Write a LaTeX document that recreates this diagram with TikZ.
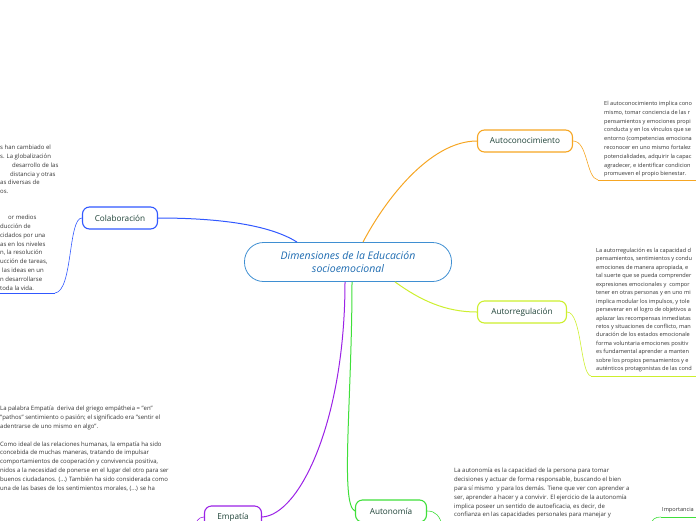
\documentclass[tikz,border=0pt]{standalone}
\usepackage{fontspec}
\setmainfont{Open Sans}
\definecolor{mainblue}{HTML}{3F8FD2}
\definecolor{maintext}{HTML}{1C6AB0}
\definecolor{nodetext}{HTML}{1E4237}
\definecolor{notegray}{HTML}{333333}
\definecolor{colabblue}{HTML}{3158FF}
\definecolor{autoorange}{HTML}{F6A623}
\definecolor{autolime}{HTML}{CDEF2E}
\definecolor{autogreen}{HTML}{3FDF3A}
\definecolor{empurple}{HTML}{9B22E6}
\tikzset{
  topic/.style={draw, rounded corners=7pt, line width=1.1pt, minimum height=22pt,
    inner xsep=2pt, fill=white, text=nodetext, font=\fontsize{8.2}{9}\selectfont},
  note/.style={anchor=north west, inner sep=0pt, align=left, text=notegray,
    font=\fontsize{6}{8.8}\selectfont},
  edgenote/.style={note, font=\fontsize{5.6}{8.8}\selectfont},
  branch/.style={line width=1pt},
  link/.style={line width=0.6pt},
  rule/.style={line width=0.9pt}
}
\begin{document}
\begin{tikzpicture}[x=1pt, y=-1pt]
  \useasboundingbox (0,0) rectangle (696,520);
  \clip (0,0) rectangle (696,520);

  \node[draw=mainblue, line width=0.8pt, rounded corners=19pt, minimum width=207pt,
    minimum height=39pt, align=center, text=maintext,
    font=\itshape\fontsize{10.5}{12.5}\selectfont] (dim) at (348,262)
    {Dimensiones de la Educación\\socioemocional};

  \node[topic, draw=colabblue, minimum width=75pt] (colab) at (120,218) {Colaboración};
  \node[topic, draw=autoorange, minimum width=95pt] (autocon) at (525,141) {Autoconocimiento};
  \node[topic, draw=autolime, minimum width=89pt] (autorreg) at (522,312) {Autorregulación};
  \node[topic, draw=autogreen, minimum width=71pt] (auton) at (391,511) {Autonomía};
  \node[topic, draw=empurple, minimum width=57pt] (empat) at (233,517) {Empatía};

  \draw[branch, colabblue] ([xshift=-51pt]dim.north) .. controls (270,225) and (220,218) .. (colab.east);
  \draw[branch, autoorange] ([xshift=15pt]dim.north) .. controls (385,200) and (430,141) .. (autocon.west);
  \draw[branch, autolime] ([xshift=47pt]dim.south) .. controls (420,300) and (445,312) .. (autorreg.west);
  \draw[branch, autogreen] ([xshift=4pt]dim.south) .. controls (352,400) and (340,505) .. (auton.west);
  \draw[branch, empurple] ([xshift=-3pt]dim.south) .. controls (345,420) and (300,515) .. (empat.east);

  % notas
  \node[note] (colabtxt) at (0,145) {s han cambiado el\\s. La globalización\\
    \hspace*{12pt}desarrollo de las\\\hspace*{10pt}distancia y otras\\
    as diversas de\\os.};
  \node[note] (colabtxtb) at (0,215) {\hspace*{8pt}or medios\\ducción de\\
    cidados por una\\as en los niveles\\n, la resolución\\ucción de tareas,\\
    \hspace*{2pt}las ideas en un\\n desarrollarse\\toda la vida.};
  \node[edgenote] (autocontxt) at (604,101) {El autoconocimiento implica cono\\
    mismo, tomar conciencia de las r\\pensamientos y emociones propi\\
    conducta y en los vínculos que se\\entorno (competencias emociona\\
    reconocer en uno mismo fortalez\\potencialidades, adquirir la capac\\
    agradecer, e identificar condicion\\promueven el propio bienestar.};
  \node[edgenote, font=\fontsize{5.6}{8.45}\selectfont] (autorregtxt) at (596,248)
    {La autorregulación es la capacidad d\\pensamientos, sentimientos y condu\\
    emociones de manera apropiada, e\\tal suerte que se pueda comprender\\
    expresiones emocionales y \ compor\\tener en otras personas y en uno mi\\
    implica modular los impulsos, y tole\\perseverar en el logro de objetivos a\\
    aplazar las recompensas inmediatas\\retos y situaciones de conflicto, man\\
    duración de los estados emocionale\\forma voluntaria emociones positiv\\
    es fundamental aprender a manten\\sobre los propios pensamientos y e\\
    auténticos protagonistas de las cond};
  \node[note] (autontxt) at (454,468) {La autonomía es la capacidad de la persona para tomar\\
    decisiones y actuar de forma responsable, buscando el bien\\
    para sí mismo \ y para los demás. Tiene que ver con aprender a\\
    ser, aprender a hacer y a convivir. El ejercicio de la autonomía\\
    implica poseer un sentido de autoeficacia, es decir, de\\
    confianza en las capacidades personales para manejar y};
  \node[note] (empattxt) at (0,406) {La palabra Empatía \ deriva del griego empátheia = "en"\\
    "pathos" sentimiento o pasión; el significado era "sentir el\\
    adentrarse de uno mismo en algo".\\[8.8pt]
    Como ideal de las relaciones humanas, la empatía ha sido\\
    concebida de muchas maneras, tratando de impulsar\\
    comportamientos de cooperación y convivencia positiva,\\
    nidos a la necesidad de ponerse en el lugar del otro para ser\\
    buenos ciudadanos. (...) También ha sido considerada como\\
    una de las bases de los sentimientos morales, (...) se ha};
  \node[edgenote, anchor=south west] (imptxt) at (662,513) {Importancia};

  \coordinate (colabend) at (0,293);
  \coordinate (autoconend) at (696,180);
  \coordinate (autorregend) at (696,376);
  \coordinate (autonend) at (443,528);
  \coordinate (empatend) at (194,528);
  \coordinate (impstart) at (650,526);
  \coordinate (impend) at (696,517);

  \draw[link, colabblue] (colab.west) .. controls (68,218) and (73,291) .. (55,293);
  \draw[rule, colabblue] (55,293) -- (colabend);
  \draw[link, autoorange] (autocon.east) .. controls (588,141) and (586,178) .. (598,180);
  \draw[rule, autoorange] (598,180) -- (autoconend);
  \draw[link, autolime] (autorreg.east) .. controls (582,312) and (580,374) .. (591,376);
  \draw[rule, autolime] (591,376) -- (autorregend);
  \draw[link, autogreen] (auton.east) .. controls (436,511) and (440,516) .. (autonend);
  \draw[link, empurple] (empat.west) .. controls (198,517) and (196,522) .. (empatend);
  \draw[link, autogreen] (impstart) .. controls (652,519) and (655,517) .. (661,517);
  \draw[rule, autogreen] (661,517) -- (impend);
\end{tikzpicture}
\end{document}
